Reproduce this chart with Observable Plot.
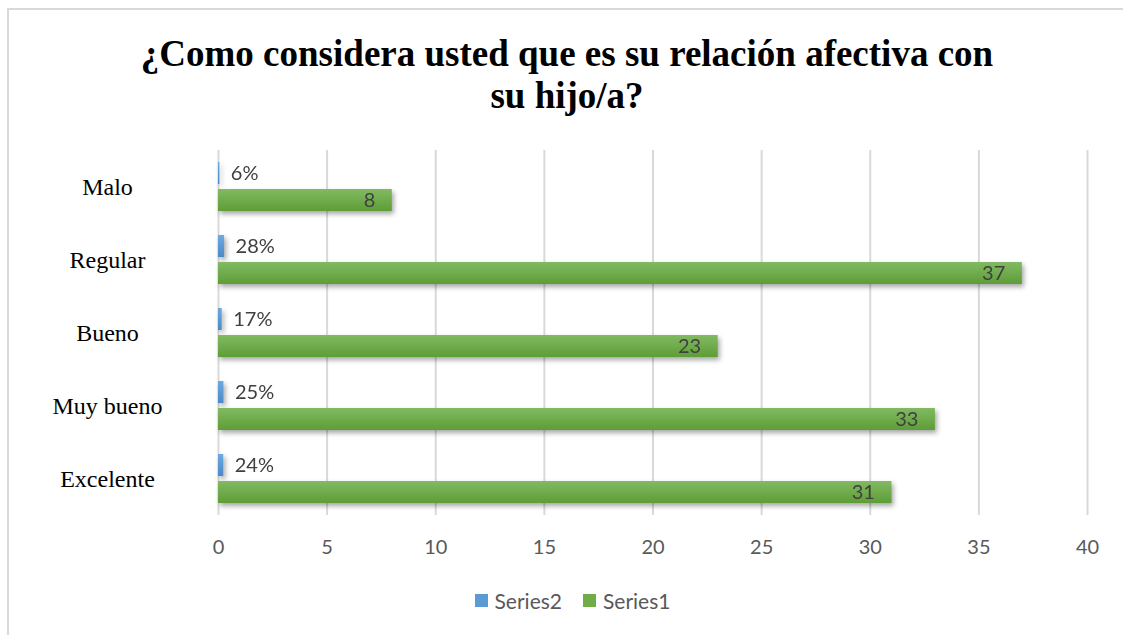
<!DOCTYPE html>
<html>
<head>
<meta charset="utf-8">
<script src="https://cdn.jsdelivr.net/npm/d3@7"></script>
<script src="https://cdn.jsdelivr.net/npm/@observablehq/plot@0.6"></script>
<style>
  body { margin: 0; background: #fff; }
  #page { position: relative; width: 1123px; height: 635px; overflow: hidden; background: #fff; }
  #frame { position: absolute; left: 7px; top: 8px; width: 1300px; height: 700px; border-top: 2px solid #d9d9d9; border-left: 2px solid #d9d9d9; box-sizing: border-box; }
  #title { position: absolute; left: 7px; top: 33px; width: 1120px; text-align: center; font-family: "Liberation Serif", "Times New Roman", serif; font-weight: bold; font-size: 37px; line-height: 42px; color: #000; }
  #chart { position: absolute; left: 0; top: 140px; }
  #legend { position: absolute; left: 0; top: 588px; width: 1145px; display: flex; justify-content: center; gap: 21px; font-family: Lato, "Open Sans", sans-serif; font-size: 21px; color: #595959; }
  .item { display: flex; align-items: center; gap: 7px; }
  .sw { width: 13px; height: 13px; display: inline-block; }
</style>
</head>
<body>
<div id="page">
  <div id="frame"></div>
  <div id="title">¿Como considera usted que es su relación afectiva con<br>su hijo/a?</div>
  <div id="chart"></div>
  <div id="legend"></div>
</div>
<script>
const categories = ["Malo", "Regular", "Bueno", "Muy bueno", "Excelente"];
const seriesNames = ["Series2", "Series1"];
const series1 = [8, 37, 23, 33, 31];
const series2 = [0.06, 0.28, 0.17, 0.25, 0.24];
const xTicks = [0, 5, 10, 15, 20, 25, 30, 35, 40];
const colors = {Series2: "#5b9bd5", Series1: "#70ad47"};

const rows1 = categories.map((c, i) => ({category: c, series: "Series1", value: series1[i]}));
const rows2 = categories.map((c, i) => ({category: c, series: "Series2", value: series2[i]}));
const pct = d3.format(".0%");

const chart = Plot.plot({
  width: 1123,
  height: 430,
  marginLeft: 218,
  marginRight: 36,
  marginTop: 8,
  marginBottom: 53,
  style: {fontFamily: "Lato, 'Open Sans', sans-serif", fontSize: "20px", background: "transparent", overflow: "visible"},
  x: {domain: [0, 40], ticks: xTicks},
  y: {domain: seriesNames, paddingInner: 0.18, paddingOuter: 0.43, axis: null},
  fy: {domain: categories, padding: 0},
  marks: [
    Plot.gridX(xTicks, {stroke: "#d9d9d9", strokeOpacity: 1, strokeWidth: 2}),
    Plot.axisX(xTicks, {tickSize: 0, tickPadding: 24, fill: "#595959", fontSize: 20, label: null}),
    Plot.axisFy({anchor: "left", tickSize: 0, tickPadding: 111, textAnchor: "middle", fontFamily: "Liberation Serif, 'Times New Roman', serif", fontSize: 24, fill: "#000", label: null}),
    Plot.barX(rows2, {x: "value", y: "series", fy: "category", fill: "url(#gradBlue)"}),
    Plot.barX(rows1, {x: "value", y: "series", fy: "category", fill: "url(#gradGreen)"}),
    Plot.text(rows2, {x: "value", y: "series", fy: "category", text: d => pct(d.value), textAnchor: "start", dx: 11, fill: "#404040", fontSize: 20}),
    Plot.text(rows1, {x: "value", y: "series", fy: "category", text: d => String(d.value), textAnchor: "end", dx: -17, fill: "#404040", fontSize: 20})
  ]
});

// gradients and shadow
const svg = d3.select(chart.tagName.toLowerCase() === "svg" ? chart : chart.querySelector("svg"));
const defs = svg.insert("defs", ":first-child");
const g1 = defs.append("linearGradient").attr("id", "gradGreen").attr("x1", 0).attr("y1", 0).attr("x2", 0).attr("y2", 1);
g1.append("stop").attr("offset", "0%").attr("stop-color", "#81ba62");
g1.append("stop").attr("offset", "100%").attr("stop-color", "#5e9d36");
const g2 = defs.append("linearGradient").attr("id", "gradBlue").attr("x1", 0).attr("y1", 0).attr("x2", 0).attr("y2", 1);
g2.append("stop").attr("offset", "0%").attr("stop-color", "#6eaae0");
g2.append("stop").attr("offset", "100%").attr("stop-color", "#4a89c8");
svg.selectAll('g[aria-label="bar"]').style("filter", "drop-shadow(2px 3px 2.5px rgba(0,0,0,0.35))");

document.getElementById("chart").appendChild(chart);

const legend = d3.select("#legend");
for (const s of seriesNames) {
  const it = legend.append("div").attr("class", "item");
  it.append("span").attr("class", "sw").style("background", colors[s]);
  it.append("span").text(s);
}
</script>
</body>
</html>
